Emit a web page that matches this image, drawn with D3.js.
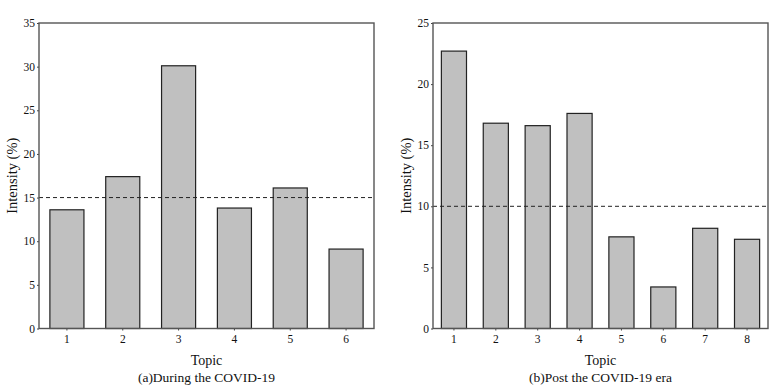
<!DOCTYPE html>
<html>
<head>
<meta charset="utf-8">
<script src="https://cdn.jsdelivr.net/npm/d3@7"></script>
<style>
  body { margin: 0; background: #fff; }
  svg text { font-family: "Liberation Serif", "Times New Roman", serif; fill: #111; }
</style>
</head>
<body>
<svg id="chart" width="784" height="390"></svg>
<script>
// panel (a): during COVID-19
const topicsA = ["1", "2", "3", "4", "5", "6"];
const valuesA = [13.6, 17.4, 30.1, 13.8, 16.1, 9.1];
const ticksA = [0, 5, 10, 15, 20, 25, 30, 35];
const thresholdA = 15;

// panel (b): post COVID-19 era
const topicsB = ["1", "2", "3", "4", "5", "6", "7", "8"];
const valuesB = [22.7, 16.8, 16.6, 17.6, 7.5, 3.4, 8.2, 7.3];
const ticksB = [0, 5, 10, 15, 20, 25];
const thresholdB = 10;

const svg = d3.select("#chart");

function drawPanel(opts) {
    const g = svg.append("g").attr("transform", `translate(${opts.left},23)`);
    const w = 335, h = 305.5;

    const x = d3.scaleBand().domain(opts.topics).range([0, w]).paddingInner(opts.pad).paddingOuter(opts.pad / 2);
    const y = d3.scaleLinear().domain([0, opts.max]).range([h, 0]);

    // bars
    g.selectAll(".bar").data(opts.values).enter().append("rect")
        .attr("class", "bar")
        .attr("x", (d, i) => x(opts.topics[i]))
        .attr("y", d => y(d))
        .attr("width", x.bandwidth())
        .attr("height", d => h - y(d))
        .attr("fill", "#c0c0c0")
        .attr("stroke", "#222")
        .attr("stroke-width", 1.2);

    // dashed reference line
    g.append("line")
        .attr("x1", 0).attr("x2", w)
        .attr("y1", y(opts.threshold)).attr("y2", y(opts.threshold))
        .attr("stroke", "#222")
        .attr("stroke-width", 1)
        .attr("stroke-dasharray", "4,3");

    // axes
    const yAxis = g.append("g").call(d3.axisLeft(y).tickValues(opts.ticks).tickSize(2).tickPadding(2));
    const xAxis = g.append("g").attr("transform", `translate(0,${h})`)
        .call(d3.axisBottom(x).tickSize(2).tickPadding(4));
    [yAxis, xAxis].forEach(a => {
        a.select(".domain").remove();
        a.selectAll("line").attr("stroke", "#444");
        a.selectAll("text").attr("font-size", 11.5).attr("font-family", "Liberation Serif, serif").attr("fill", "#111");
    });

    // frame
    g.append("rect")
        .attr("width", w).attr("height", h)
        .attr("fill", "none")
        .attr("stroke", "#555")
        .attr("stroke-width", 1.4);

    g.append("text")
        .attr("transform", `translate(-22,${h / 2}) rotate(-90)`)
        .attr("text-anchor", "middle")
        .attr("font-size", 14.5)
        .text("Intensity (%)");

    g.append("text")
        .attr("x", w / 2).attr("y", h + 36)
        .attr("text-anchor", "middle")
        .attr("font-size", 14)
        .text("Topic");

    g.append("text")
        .attr("x", w / 2).attr("y", h + 53)
        .attr("text-anchor", "middle")
        .attr("font-size", 13.5)
        .text(opts.caption);
}

drawPanel({left: 39, topics: topicsA, values: valuesA, ticks: ticksA, max: 35,
    threshold: thresholdA, pad: 0.39, caption: "(a)During the COVID-19"});
drawPanel({left: 433, topics: topicsB, values: valuesB, ticks: ticksB, max: 25,
    threshold: thresholdB, pad: 0.4, caption: "(b)Post the COVID-19 era"});
</script>
</body>
</html>
